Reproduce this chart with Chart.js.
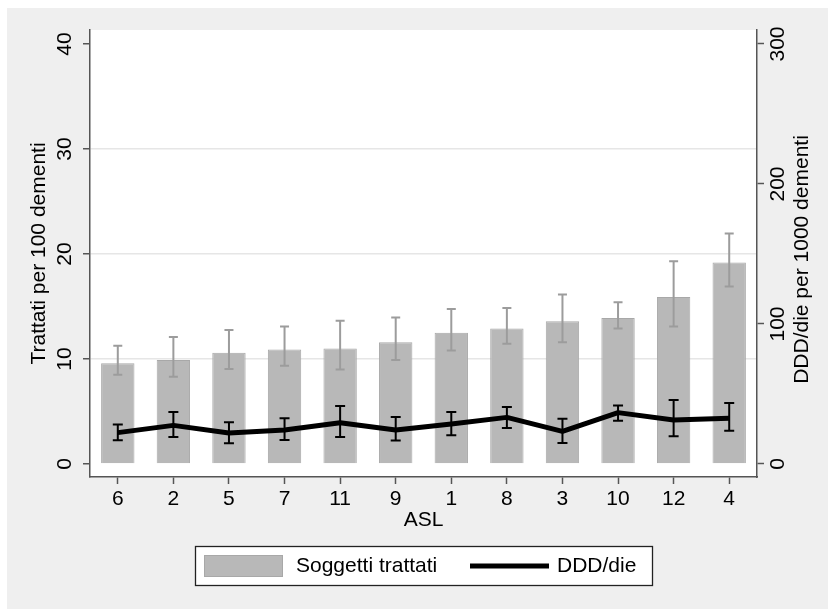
<!DOCTYPE html>
<html>
<head>
<meta charset="utf-8">
<script src="https://cdn.jsdelivr.net/npm/chart.js@4/dist/chart.umd.min.js"></script>
<style>
  html, body { margin: 0; padding: 0; background: #fff; }
  #wrap { position: relative; width: 828px; height: 609px; }
</style>
</head>
<body>
<div id="wrap"><canvas id="c" width="828" height="609"></canvas></div>
<script>
// ASL ordered by share of treated patients
const aslLabels = ['6', '2', '5', '7', '11', '9', '1', '8', '3', '10', '12', '4'];

// Trattati per 100 dementi (bars) with confidence limits
const trattati     = [9.6, 9.9, 10.6, 10.9, 11.0, 11.6, 12.5, 12.9, 13.6, 13.9, 15.9, 19.2];
const trattatiLow  = [8.5, 8.3, 9.05, 9.35, 9.0, 9.9, 10.8, 11.45, 11.6, 12.9, 13.1, 16.9];
const trattatiHigh = [11.25, 12.1, 12.75, 13.1, 13.65, 13.95, 14.75, 14.85, 16.15, 15.4, 19.3, 21.95];

// DDD/die per 1000 dementi (line) with confidence limits
const ddd     = [22.4, 27.6, 22.1, 24.3, 29.5, 24.3, 28.6, 33.3, 23.3, 36.7, 31.4, 32.6];
const dddLow  = [16.9, 19.3, 14.8, 17.1, 19.3, 16.7, 20.5, 25.7, 15.0, 30.9, 19.8, 23.8];
const dddHigh = [28.3, 37.1, 29.8, 32.6, 41.4, 33.6, 37.1, 40.7, 32.4, 41.7, 45.7, 43.6];

// axis tick values
const leftTicks  = [0, 10, 20, 30, 40];
const rightTicks = [0, 100, 200, 300];

const FONT = '"Liberation Sans", Arial, Helvetica, sans-serif';
const AXIS = '#555555';

function drawErrors(chart, meta, scale, lows, highs, color, width, cap) {
  const ctx = chart.ctx;
  ctx.save();
  ctx.strokeStyle = color;
  ctx.lineWidth = width;
  ctx.lineCap = 'butt';
  meta.data.forEach((el, i) => {
    const x = el.x;
    const yl = scale.getPixelForValue(lows[i]);
    const yh = scale.getPixelForValue(highs[i]);
    ctx.beginPath();
    ctx.moveTo(x, yl); ctx.lineTo(x, yh);
    ctx.moveTo(x - cap, yl); ctx.lineTo(x + cap, yl);
    ctx.moveTo(x - cap, yh); ctx.lineTo(x + cap, yh);
    ctx.stroke();
  });
  ctx.restore();
}

function vText(ctx, txt, x, y) {
  ctx.save();
  ctx.translate(x, y);
  ctx.rotate(-Math.PI / 2);
  ctx.textAlign = 'center';
  ctx.textBaseline = 'middle';
  ctx.fillText(txt, 0, 0);
  ctx.restore();
}

const decor = {
  id: 'decor',
  beforeDraw(chart) {
    const ctx = chart.ctx, a = chart.chartArea;
    ctx.save();
    ctx.fillStyle = '#ffffff';
    ctx.fillRect(0, 0, chart.width, chart.height);
    ctx.fillStyle = '#efefef';
    ctx.fillRect(7, 8, chart.width - 7, chart.height - 8);
    ctx.fillStyle = '#ffffff';
    ctx.fillRect(a.left, a.top, a.right - a.left, a.bottom - a.top);
    ctx.restore();
  },
  afterDatasetDraw(chart, args) {
    const ds = chart.data.datasets[args.index];
    if (ds.type === 'bar') {
      drawErrors(chart, args.meta, chart.scales.y, trattatiLow, trattatiHigh, '#9c9c9c', 2, 4.5);
    } else {
      drawErrors(chart, args.meta, chart.scales.y1, dddLow, dddHigh, '#000000', 2, 5);
    }
  },
  afterDraw(chart) {
    const ctx = chart.ctx, a = chart.chartArea;
    const ys = chart.scales.y, y1 = chart.scales.y1;
    ctx.save();
    ctx.fillStyle = '#000';
    ctx.font = '21px ' + FONT;
    leftTicks.forEach(v => vText(ctx, String(v), 65, ys.getPixelForValue(v)));
    rightTicks.forEach(v => vText(ctx, String(v), 778.5, y1.getPixelForValue(v)));
    // axis titles
    vText(ctx, 'Trattati per 100 dementi', 39, (a.top + a.bottom) / 2);
    vText(ctx, 'DDD/die per 1000 dementi', 802, (a.top + a.bottom) / 2 + 6);
    ctx.textAlign = 'center';
    ctx.textBaseline = 'middle';
    ctx.fillText('ASL', (a.left + a.right) / 2, 520);

    // legend
    ctx.fillStyle = '#ffffff';
    ctx.fillRect(195, 546, 458, 40);
    ctx.strokeStyle = '#222';
    ctx.lineWidth = 1.3;
    ctx.strokeRect(195.5, 546.5, 457, 39);
    ctx.fillStyle = '#b8b8b8';
    ctx.fillRect(204, 555, 79, 22);
    ctx.strokeStyle = '#a8a8a8';
    ctx.lineWidth = 1;
    ctx.strokeRect(204.5, 555.5, 78, 21);
    ctx.strokeStyle = '#000';
    ctx.lineWidth = 5;
    ctx.beginPath();
    ctx.moveTo(470, 566); ctx.lineTo(549, 566);
    ctx.stroke();
    ctx.fillStyle = '#000';
    ctx.textAlign = 'left';
    ctx.fillText('Soggetti trattati', 296, 566);
    ctx.fillText('DDD/die', 557, 566);
    ctx.restore();
  }
};

new Chart(document.getElementById('c'), {
  data: {
    labels: aslLabels,
    datasets: [
      {
        type: 'line',
        label: 'DDD/die',
        data: ddd,
        yAxisID: 'y1',
        borderColor: '#000000',
        borderWidth: 5,
        borderJoinStyle: 'round',
        pointRadius: 0,
        tension: 0,
        fill: false,
        order: 0
      },
      {
        type: 'bar',
        label: 'Soggetti trattati',
        data: trattati,
        yAxisID: 'y',
        backgroundColor: '#b8b8b8',
        borderColor: '#a8a8a8',
        borderWidth: 1,
        categoryPercentage: 1,
        barPercentage: 0.6,
        order: 1
      }
    ]
  },
  options: {
    responsive: false,
    animation: false,
    devicePixelRatio: 1,
    layout: { padding: { top: 30, left: 0, right: 0, bottom: 0 } },
    plugins: { legend: { display: false }, tooltip: { enabled: false } },
    scales: {
      x: {
        type: 'category',
        offset: true,
        grid: { display: true, offset: false, drawOnChartArea: false, drawTicks: true, tickLength: 7, tickColor: AXIS, tickWidth: 1.5 },
        border: { display: true, color: AXIS, width: 1.5 },
        ticks: { color: '#000', font: { family: FONT, size: 21 }, padding: 3, maxRotation: 0, minRotation: 0 },
        afterFit(s) { s.height = 132; }
      },
      y: {
        position: 'left',
        min: -1.238,
        max: 41.333,
        afterBuildTicks(s) { s.ticks = leftTicks.map(v => ({ value: v })); },
        grid: {
          display: true,
          color: c => (c.tick && [10, 20, 30].includes(c.tick.value)) ? '#e6e6e6' : 'rgba(0,0,0,0)',
          lineWidth: 1.5,
          drawTicks: true, tickLength: 7, tickColor: AXIS, tickWidth: 1.5
        },
        border: { display: true, color: AXIS, width: 1.5 },
        ticks: { display: false },
        afterFit(s) { s.width = 90; }
      },
      y1: {
        position: 'right',
        min: -9.286,
        max: 310,
        afterBuildTicks(s) { s.ticks = rightTicks.map(v => ({ value: v })); },
        grid: { display: true, drawOnChartArea: false, drawTicks: true, tickLength: 7, tickColor: AXIS, tickWidth: 1.5 },
        border: { display: true, color: AXIS, width: 1.5 },
        ticks: { display: false },
        afterFit(s) { s.width = 71; }
      }
    }
  },
  plugins: [decor]
});
</script>
</body>
</html>
